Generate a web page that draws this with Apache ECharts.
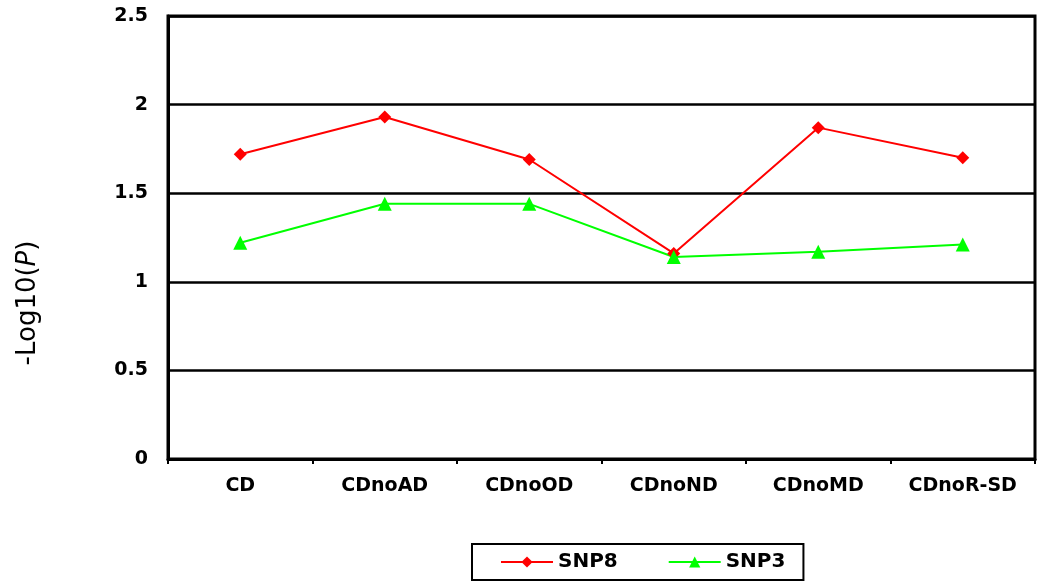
<!DOCTYPE html>
<html>
<head>
<meta charset="utf-8">
<script src="https://cdn.jsdelivr.net/npm/echarts@6/dist/echarts.min.js"></script>
<style>
  html, body { margin: 0; padding: 0; background: #fff; }
  #chart { width: 1050px; height: 587px; }
</style>
</head>
<body>
<div id="chart"></div>
<script>
// categories along x
const categories = ['CD', 'CDnoAD', 'CDnoOD', 'CDnoND', 'CDnoMD', 'CDnoR-SD']
// -log10(P) values
const snp8 = [1.72, 1.93, 1.69, 1.16, 1.87, 1.70]
const snp3 = [1.22, 1.44, 1.44, 1.14, 1.17, 1.21]
const yTicks = [0, 0.5, 1, 1.5, 2, 2.5]

const font = 'DejaVu Sans'
const chart = echarts.init(document.getElementById('chart'))

chart.setOption({
  animation: false,
  grid: {
    left: 168,
    right: 15,
    top: 16,
    bottom: 128,
    show: true,
    borderColor: '#000',
    borderWidth: 3
  },
  graphic: [
    {
      type: 'text',
      x: 28,
      y: 303,
      rotation: Math.PI / 2,
      style: {
        text: '-Log10({i|P})',
        font: '26px "DejaVu Sans"',
        fill: '#000',
        align: 'center',
        verticalAlign: 'middle',
        rich: {
          i: { fontStyle: 'italic', fontSize: 26, fontFamily: font }
        }
      }
    }
  ],
  legend: {
    left: 472,
    top: 544,
    orient: 'horizontal',
    borderColor: '#000',
    borderWidth: 2,
    padding: [8, 18, 8, 28],
    itemWidth: 52,
    itemHeight: 14,
    itemGap: 50,
    textStyle: {
      fontFamily: font,
      fontWeight: 'bold',
      fontSize: 20,
      color: '#000'
    },
    data: ['SNP8', 'SNP3']
  },
  xAxis: {
    type: 'category',
    data: categories,
    boundaryGap: true,
    axisLine: { lineStyle: { color: '#000', width: 3 } },
    axisTick: { show: true, interval: 0, length: 5, lineStyle: { color: '#000', width: 2 } },
    axisLabel: {
      interval: 0,
      margin: 18,
      fontFamily: font,
      fontWeight: 'bold',
      fontSize: 19,
      color: '#000'
    },
    splitLine: { show: false }
  },
  yAxis: {
    type: 'value',
    min: yTicks[0],
    max: yTicks[yTicks.length - 1],
    interval: 0.5,
    axisLine: { show: true, lineStyle: { color: '#000', width: 3 } },
    axisTick: { show: false },
    axisLabel: {
      margin: 20,
      fontFamily: font,
      fontWeight: 'bold',
      fontSize: 19,
      color: '#000'
    },
    splitLine: { show: true, lineStyle: { color: '#000', width: 2.5 } }
  },
  series: [
    {
      name: 'SNP8',
      type: 'line',
      data: snp8,
      color: '#ff0000',
      symbol: 'diamond',
      symbolSize: 13,
      lineStyle: { width: 2, color: '#ff0000' },
      itemStyle: { color: '#ff0000' }
    },
    {
      name: 'SNP3',
      type: 'line',
      data: snp3,
      color: '#00ff00',
      symbol: 'triangle',
      symbolSize: 14,
      lineStyle: { width: 2, color: '#00ff00' },
      itemStyle: { color: '#00ff00' }
    }
  ]
})
</script>
</body>
</html>
